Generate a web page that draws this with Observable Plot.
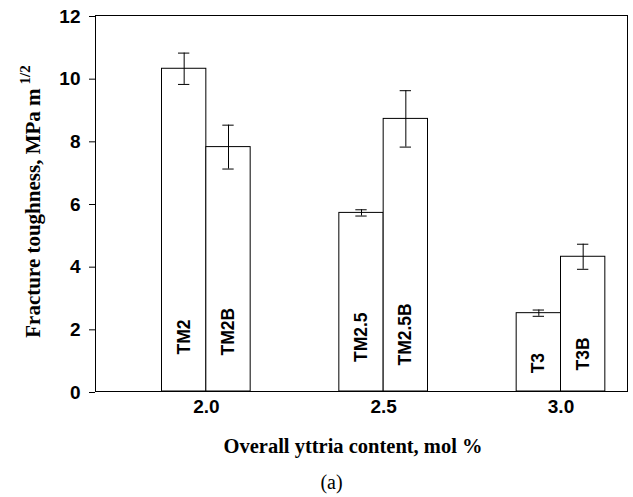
<!DOCTYPE html>
<html><head><meta charset="utf-8">
<script src="https://cdn.jsdelivr.net/npm/d3@7"></script>
<script src="https://cdn.jsdelivr.net/npm/@observablehq/plot@0.6"></script>
<style>body{margin:0;background:#fff} svg{display:block}</style>
</head><body><div id="chart"></div>
<script>
// ---- data ----
const samples   = ["TM2", "TM2B", "TM2.5", "TM2.5B", "T3", "T3B"];
const yttria    = [2.0, 2.0, 2.5, 2.5, 3.0, 3.0];
const side      = ["left", "right", "left", "right", "left", "right"];
const toughness = [10.3, 7.8, 5.7, 8.7, 2.5, 4.3];
const errorBar  = [0.5, 0.7, 0.1, 0.9, 0.1, 0.4];
const labelY    = [1.18, 1.15, 0.94, 0.83, 0.58, 0.67];
const xTicks    = [2.0, 2.5, 3.0];
const yTicks    = [0, 2, 4, 6, 8, 10, 12];
const xTitle    = "Overall yttria content, mol %";
const yTitle    = "Fracture toughness, MPa m";
const yTitleSup = "1/2";
const panelCaption = "(a)";

const barWidth = 0.125, capHalf = 0.016;
const data = samples.map((s, i) => {
  const x1 = side[i] === "left" ? yttria[i] - barWidth : yttria[i];
  const x2 = side[i] === "left" ? yttria[i] : yttria[i] + barWidth;
  return {sample: s, x1, x2, xc: (x1 + x2) / 2, value: toughness[i], err: errorBar[i], labelY: labelY[i]};
});

const sans = "'Liberation Sans', Arial, Helvetica, sans-serif";
const serif = "'Liberation Serif', 'Times New Roman', Times, serif";

const plot = Plot.plot({
  width: 633, height: 497,
  marginLeft: 95, marginRight: 6, marginTop: 15, marginBottom: 106,
  x: {domain: [1.6875, 3.1875]},
  y: {domain: [0, 12]},
  style: {background: "#fff", color: "#000"},
  marks: [
    Plot.rectY(data, {x1: "x1", x2: "x2", y1: 0, y2: "value", fill: "#fff", stroke: "#000", strokeWidth: 1}),
    Plot.ruleX(data, {x: "xc", y1: d => d.value - d.err, y2: d => d.value + d.err, stroke: "#000"}),
    Plot.ruleY(data, {y: d => d.value + d.err, x1: d => d.xc - capHalf, x2: d => d.xc + capHalf, stroke: "#000"}),
    Plot.ruleY(data, {y: d => d.value - d.err, x1: d => d.xc - capHalf, x2: d => d.xc + capHalf, stroke: "#000"}),
    Plot.text(data, {x: "xc", y: "labelY", text: "sample", rotate: -90, textAnchor: "start", lineAnchor: "middle",
      fontSize: 17.5, fontWeight: "bold", fontFamily: sans, fill: "#000"}),
    Plot.axisY({ticks: yTicks, tickSize: 6, tickPadding: 9, fontSize: 19, fontWeight: "bold", fontFamily: sans, label: null, dy: 1}),
    Plot.axisX({ticks: xTicks, tickFormat: d3.format(".1f"), tickSize: 0, tickPadding: 8, fontSize: 19, fontWeight: "bold", fontFamily: sans, label: null}),
    Plot.frame({stroke: "#000"}),
    Plot.text([xTitle], {frameAnchor: "bottom", text: d => d, dx: -8.5, dy: 61, lineAnchor: "bottom",
      fontFamily: serif, fontWeight: "bold", fontSize: 20.5, fill: "#000"}),
    Plot.text([yTitle], {frameAnchor: "left", text: d => d, rotate: -90, dx: -56, dy: -2, textAnchor: "middle", lineAnchor: "bottom",
      fontFamily: serif, fontWeight: "bold", fontSize: 21, fill: "#000"}),
    Plot.text([panelCaption], {frameAnchor: "bottom", text: d => d, dx: -30, dy: 97, lineAnchor: "bottom",
      fontFamily: serif, fontSize: 20, fill: "#000"})
  ]
});

// superscript on the y-axis title
d3.select(plot).selectAll("text").filter(function() { return this.textContent === yTitle; })
  .append("tspan").attr("dx", 4).attr("dy", -10).attr("font-size", 15).text(yTitleSup);

document.getElementById("chart").appendChild(plot);
</script>
</body></html>
